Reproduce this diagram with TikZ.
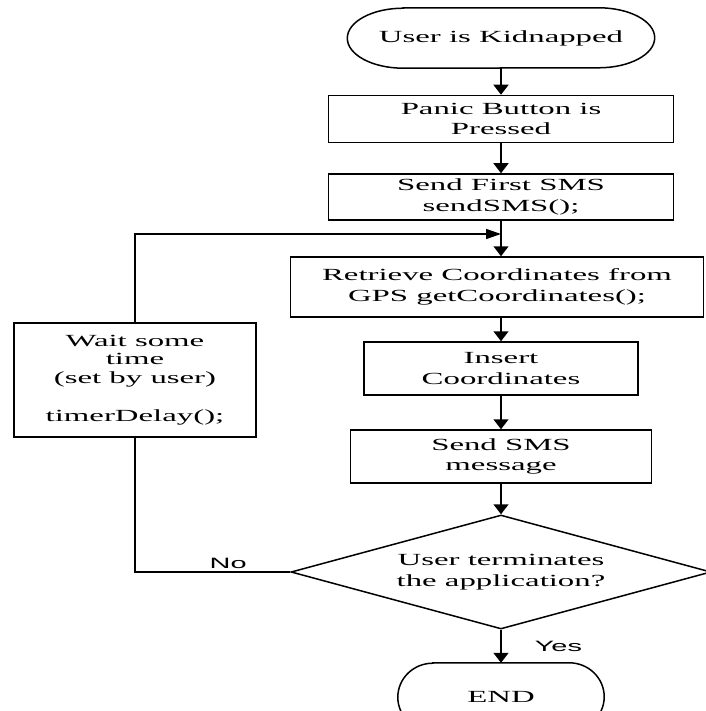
\documentclass[tikz,border=0pt]{standalone}
\usepackage{fontspec}
\usepackage{tikz}
\usetikzlibrary{shapes.geometric,arrows.meta}
\newfontfamily\flowfont{Liberation Serif}[FakeStretch=1.93]
\newfontfamily\answerfont{Liberation Sans}[FakeStretch=1.93]

\tikzset{
	box/.style={draw, line width=1.5pt, inner sep=0pt, align=center,
		font=\flowfont\fontsize{17}{20.5}\selectfont},
	term/.style={inner sep=0pt, align=center, font=\flowfont\fontsize{17}{20.5}\selectfont},
	decision/.style={draw, diamond, aspect=3.68, line width=1.5pt, inner sep=1pt,
		minimum width=420pt, minimum height=114pt, align=center,
		font=\flowfont\fontsize{17}{20.5}\selectfont},
	flow/.style={line width=1.5pt, -{Triangle[width=15pt,length=10pt]}},
	back/.style={line width=1.5pt, -{Triangle[width=10pt,length=15pt]}},
	answer/.style={font=\answerfont\fontsize{15}{18}\selectfont, inner sep=3pt}
}

\begin{document}
\begin{tikzpicture}[x=1pt,y=1pt]
\useasboundingbox (0,0) rectangle (705,-711);

\node[term, minimum width=307pt, minimum height=60pt] (kidnap) at (501,-38) {User is Kidnapped};
\node[box, minimum width=345pt, minimum height=47pt] (panic) at (501,-119) {Panic Button is\\Pressed};
\node[box, minimum width=345pt, minimum height=46pt] (first) at (501,-197) {Send First SMS\\sendSMS();};
\node[box, minimum width=413pt, minimum height=60pt] (gps) at (497,-287) {Retrieve Coordinates from\\GPS getCoordinates();};
\node[box, minimum width=274pt, minimum height=53pt] (insert) at (501,-368.5) {Insert\\Coordinates};
\node[box, minimum width=301pt, minimum height=53pt] (sms) at (501,-456.5) {Send SMS\\message};
\node[decision] (quit) at (501,-572) {User terminates\\the application?};
\node[term, minimum width=206pt, minimum height=68pt] (stop) at (501,-697) {END};
\node[box, minimum width=242pt, minimum height=114pt,
	font=\flowfont\fontsize{17}{18.5}\selectfont] (wait) at (135,-380)
	{Wait some\\time\\(set by user)\\[20pt]timerDelay();};
\coordinate (join) at (501,-234);

% terminal outlines
\draw[line width=1.5pt] ([xshift=56pt]kidnap.north west) -- ([xshift=-56pt]kidnap.north east)
	arc[start angle=90, end angle=-90, x radius=56pt, y radius=30pt]
	-- ([xshift=56pt]kidnap.south west)
	arc[start angle=270, end angle=90, x radius=56pt, y radius=30pt] -- cycle;
\draw[line width=1.5pt] ([xshift=35pt]stop.north west) -- ([xshift=-35pt]stop.north east)
	arc[start angle=90, end angle=-90, x radius=35pt, y radius=34pt]
	-- ([xshift=35pt]stop.south west)
	arc[start angle=270, end angle=90, x radius=35pt, y radius=34pt] -- cycle;

\draw[flow] (kidnap) -- (panic);
\draw[flow] (panic) -- (first);
\draw[flow] (first.south) -- (first.south |- gps.north);
\draw[flow] (gps.south -| insert.north) -- (insert.north);
\draw[flow] (insert) -- (sms);
\draw[flow] (sms) -- (quit);
\draw[flow] (quit) -- node[answer, right, xshift=30pt] (yes) {Yes} (stop);

% loop back
\draw[line width=1.5pt] (quit.west) -- node[answer, above, pos=.4] (no) {No} (quit.west -| wait.south) -- (wait.south);
\draw[back] (wait.north) |- (join);
\end{tikzpicture}
\end{document}
